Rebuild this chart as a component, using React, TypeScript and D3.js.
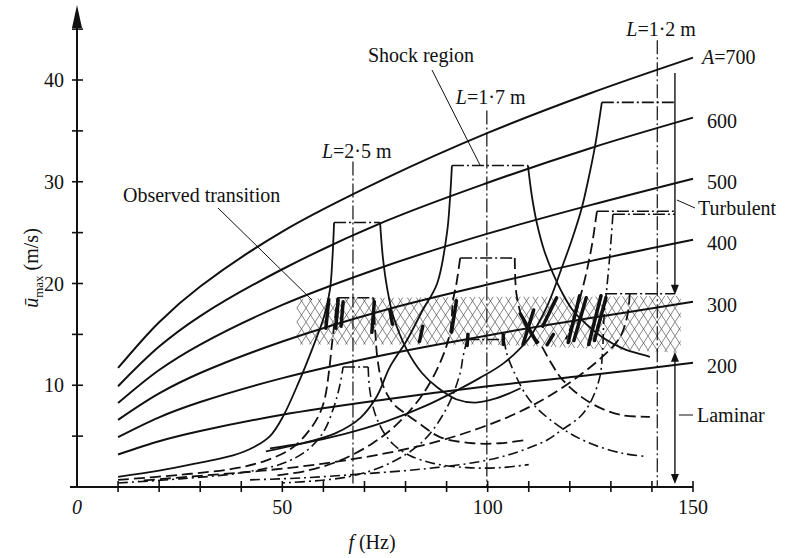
import React from 'react';
import * as d3 from 'd3';

const W = 789, H = 558;

// A-family curves (solid), common frequency grid
const aFreq = [10, 20, 30, 50, 75, 100, 125, 150];
const a700 = [11.7, 16.2, 19.7, 25.1, 30.3, 34.8, 38.7, 42.2];
const a600 = [9.9, 13.8, 16.8, 21.4, 26.1, 29.9, 33.3, 36.3];
const a500 = [8.25, 11.5, 14.0, 17.9, 21.7, 24.9, 27.7, 30.3];
const a400 = [6.6, 9.2, 11.2, 14.3, 17.4, 19.9, 22.2, 24.3];
const a300 = [4.9, 6.85, 8.35, 10.7, 13.0, 14.9, 16.6, 18.2];
const a200 = [3.2, 4.5, 5.5, 7.1, 8.6, 9.9, 11.0, 12.2];
const aLabels = ['700', '600', '500', '400', '300', '200'];

// resonance curves [f, u]
const s25L = [[10,1.0],[20,1.6],[30,2.4],[38,3.1],[43,3.9],[47,5.0],[50,6.8],[54,10.3],[57.5,13.8],[60.2,16.8],[61.6,19.4],[62.2,22.5],[62.6,26]];
const s25R = [[73.8,26],[74.5,22.5],[75.5,19.6],[77,16.8],[80.3,13.5],[84,11.2],[87.7,9.8],[92.5,8.6],[97,8.3],[102,8.7],[108,9.7]];
const s17L = [[91.3,31.6],[90.8,28.2],[90.1,25],[87.7,20],[84.2,17.4],[80.3,14.4],[76.2,11.8],[73,8.9],[69,6.8],[63,5.3],[55,4.3],[46,3.5]];
const s17R = [[109.8,31.6],[110.8,28.5],[112,25.9],[113.8,23.2],[115.9,21],[118,19.2],[120.5,17.5],[124,16],[128,14.7],[133,13.6],[139.5,12.8]];
const s12L = [[127.8,37.8],[126.1,33.4],[124.5,30.2],[122.9,27.4],[120.5,24.3],[118.1,21.6],[114.4,17.7],[110,14.6],[104,12.2],[98,10.7],[93,9.6],[85,8.0],[75,6.4],[65,5.2],[55,4.3],[47,3.8]];

const d25L = [[10,0.7],[25,1.2],[38,1.8],[46,2.6],[52.6,3.9],[57,5.8],[59.2,7.3],[60.4,8.8],[61.4,11.5],[62.1,14.1],[62.8,16.5],[63.4,18.6]];
const d25R = [[72.2,18.6],[72.6,15.5],[73.2,12.5],[74.5,10],[77,8.2],[80,7.2],[83.5,6.2],[88.4,4.9],[96.4,4.3],[103,4.3],[109,4.6]];
const d17L = [[93.3,22.5],[92.4,20],[91.6,18.4],[90.8,15.1],[88.4,12.2],[84,9.0],[78,6.2],[72,4.3],[64,2.6],[56,1.6],[48,1.1]];
const d17R = [[106.6,22.5],[107,19],[108.5,16.5],[110.5,15],[112.7,14.1],[115,12.5],[118.3,10.5],[124.9,8.3],[132.2,7.1],[139.5,6.9]];
const d12a = [[134.6,19],[134,16.8],[132.2,14.7],[129,13.2],[122.5,11],[114.4,8.8],[106.2,7.1],[98.1,5.8],[88,4.5],[75,3.3],[60,2.3],[45,1.6],[30,1.1],[15,0.6]];
const d12b = [[126.6,27.1],[125.4,23.8],[124,21],[122.5,18.6],[121,16.5],[119,14.5]];

const dd25L = [[10,0.4],[25,0.8],[40,1.4],[50,2.3],[56,3.6],[60,5.4],[62.5,7.8],[64,10],[64.8,11.8]];
const dd25R = [[70.9,11.8],[71.3,9.5],[72.5,7.3],[74.5,5.5],[77,4.2],[81,3.1],[87,2.3],[95,1.9],[103,1.9],[110,2.2]];
const dd17L = [[95,14.5],[94,12.8],[93.3,11.2],[90.2,7.9],[84.5,4.6],[76.5,2.4],[66,1.0],[50,0.4]];
const dd17R = [[104,14.5],[104.6,13.2],[106.2,11.5],[110.3,8.5],[117.6,5.9],[124.9,4.3],[133,3.3],[138.8,3.0]];
const dd12 = [[130.5,26.8],[129.8,23],[129,19.5],[128.3,16.5],[128,13.5],[127.3,10.8],[125,8.3],[122.5,6.9],[118,5.6],[114.4,4.6],[106.2,3.3],[98.1,2.5],[85,1.8],[70,1.3],[55,0.9],[42,0.7]];

// shock-region caps
const capF1 = [62.6, 63.4, 64.8, 91.3, 93.3, 95, 127.8, 126.6, 130.5, 128.6];
const capF2 = [73.8, 72.2, 70.9, 109.8, 106.6, 104, 145.6, 145.6, 145.6, 145.6];
const capU = [26, 18.6, 11.8, 31.6, 22.5, 14.5, 37.8, 27.1, 26.8, 19];

// pipe-length lines
const lFreq = [67.2, 99.8, 141.3];
const lTop = [32.0, 37.0, 43.9];
const lLabels = ['2·5', '1·7', '1·2'];
const lLabelU = [33.0, 38.3, 45.0];

// observed transition band
const bandF = [53.5, 75, 100, 125, 147];
const bandTop = [18.5, 18.6, 18.7, 18.7, 18.8];
const bandBottom = [14.0, 14.0, 14.0, 13.6, 13.2];

// observed transition marks [f1,u1,f2,u2]
const marks = [
  [61.3,18.4,60.6,15.6],[63.6,18.4,63.0,15.6],[64.8,18.2,64.3,15.8],[72.4,18.2,71.8,15.2],
  [76.2,17.4,76.8,16.0],[84.2,15.8,83.4,14.3],[92.4,18.3,91.2,15.2],[95.2,15.0,95.0,13.9],
  [103.8,15.0,103.8,14.0],[111.2,17.4,108.6,14.0],[108.0,17.0,112.0,14.2],[116.8,18.6,113.4,15.8],
  [122.4,18.8,119.6,14.2],[124.0,18.6,121.0,14.4],[127.6,18.8,124.6,14.0],[128.8,18.6,126.0,14.4],
  [116.0,15.0,114.5,14.0]
];

const xTicks = d3.range(0, 151, 10);
const xLabels = [0, 50, 100, 150];
const yTicks = d3.range(0, 46, 5);
const yLabels = [10, 20, 30, 40];

export default function App() {
  const x = d3.scaleLinear().domain([0, 150]).range([77, 693]);
  const y = d3.scaleLinear().domain([0, 40]).range([487, 80]);
  const line = d3.line<number[]>().x(d => x(d[0])).y(d => y(d[1])).curve(d3.curveCatmullRom.alpha(0.5));
  const aSeries = [a700, a600, a500, a400, a300, a200];
  const solid = [s25L, s25R, s17L, s17R, s12L];
  const dashed = [d25L, d25R, d17L, d17R, d12a, d12b];
  const dashdot = [dd25L, dd25R, dd17L, dd17R, dd12];
  const ink = '#111';
  const font = "'Liberation Serif', 'Times New Roman', serif";
  const DASH = '11 5';
  const DD = '10 4 2 4';

  const bandPts: [number, number][] = [
    ...bandF.map((f, i) => [x(f), y(bandTop[i])] as [number, number]),
    ...bandF.map((f, i) => [x(f), y(bandBottom[i])] as [number, number]).reverse(),
  ];
  const bandPath = 'M' + bandPts.map(p => p.join(',')).join('L') + 'Z';

  const xT = x(145.6);

  return (
    <svg width={W} height={H} style={{ position: 'absolute', left: 0, top: 0, background: '#fff' }} fontFamily={font}>
      <defs>
        <pattern id="hatch" patternUnits="userSpaceOnUse" width="9" height="14">
          <path d="M0,0 L9,14 M9,0 L0,14" stroke="#333" strokeWidth="0.6" fill="none" />
        </pattern>
      </defs>
      <rect x={0} y={0} width={W} height={H} fill="#fff" />

      {/* band */}
      <path d={bandPath} fill="url(#hatch)" stroke="none" />

      {/* axes */}
      <line x1={x(0)} y1={y(0)} x2={x(0)} y2={24} stroke={ink} strokeWidth={2} />
      <path d={`M${x(0)},5 L${x(0) - 5},28 L${x(0) + 5},28 Z`} fill={ink} />
      <line x1={70} y1={y(0)} x2={x(150)} y2={y(0)} stroke={ink} strokeWidth={2} />
      {yTicks.filter(t => t > 0).map(t => (
        <line key={'yt' + t} x1={72} x2={83} y1={y(t)} y2={y(t)} stroke={ink} strokeWidth={1.6} />
      ))}
      {xTicks.filter(t => t > 0).map(t => (
        <line key={'xt' + t} x1={x(t)} x2={x(t)} y1={y(0) - 6} y2={y(0) + 5} stroke={ink} strokeWidth={1.6} />
      ))}
      {yLabels.map(t => (
        <text key={'yl' + t} x={64} y={y(t)} dy="0.35em" textAnchor="end" fontSize={20} fill={ink}>{t}</text>
      ))}
      {xLabels.map(t => (
        <text key={'xl' + t} x={x(t)} y={514} textAnchor="middle" fontSize={20} fill={ink} fontStyle={t === 0 ? 'italic' : 'normal'}>{t}</text>
      ))}
      <text x={372} y={549} textAnchor="middle" fontSize={20} fill={ink}>
        <tspan fontStyle="italic">f</tspan> (Hz)
      </text>
      <text transform={`translate(38,268) rotate(-90)`} textAnchor="middle" fontSize={20} fill={ink}>
        <tspan fontStyle="italic">ū</tspan><tspan fontSize={13} dy={5}>max</tspan><tspan dy={-5}> (m/s)</tspan>
      </text>

      {/* L vertical lines */}
      {lFreq.map((f, i) => (
        <g key={'L' + i}>
          <line x1={x(f)} x2={x(f)} y1={y(lTop[i])} y2={y(0)} stroke={ink} strokeWidth={1.2} strokeDasharray="14 3 2 3" />
          <text x={x(f) - 31} y={y(lLabelU[i])} dy="0.35em" fontSize={20} fill={ink}>
            <tspan fontStyle="italic">L</tspan>={lLabels[i]} m
          </text>
        </g>
      ))}

      {/* A curves */}
      {aSeries.map((s, i) => (
        <path key={'a' + i} d={line(aFreq.map((f, j) => [f, s[j]]))!} fill="none" stroke={ink} strokeWidth={2} />
      ))}
      {aLabels.map((lab, i) => (
        <text key={'al' + i} x={i === 0 ? 702 : 707} y={y(aSeries[i][aSeries[i].length - 1]) + (i === 0 ? -1 : 3)} dy="0.35em" fontSize={20} fill={ink}>
          {i === 0 ? <><tspan fontStyle="italic">A</tspan>=700</> : lab}
        </text>
      ))}

      {/* resonance curves */}
      {solid.map((s, i) => <path key={'s' + i} d={line(s as number[][])!} fill="none" stroke={ink} strokeWidth={1.8} />)}
      {dashed.map((s, i) => <path key={'d' + i} d={line(s as number[][])!} fill="none" stroke={ink} strokeWidth={1.8} strokeDasharray={DASH} />)}
      {dashdot.map((s, i) => <path key={'dd' + i} d={line(s as number[][])!} fill="none" stroke={ink} strokeWidth={1.6} strokeDasharray={DD} />)}

      {/* caps */}
      {capU.map((u, i) => (
        <line key={'c' + i} x1={x(capF1[i])} x2={x(capF2[i])} y1={y(u)} y2={y(u)} stroke={ink} strokeWidth={1.6} strokeDasharray="12 3 2 3" />
      ))}

      {/* transition marks */}
      {marks.map((m, i) => (
        <line key={'m' + i} x1={x(m[0])} y1={y(m[1])} x2={x(m[2])} y2={y(m[3])} stroke={ink} strokeWidth={3.5} strokeLinecap="round" />
      ))}

      {/* turbulent / laminar */}
      <line x1={xT} x2={xT} y1={y(40.7)} y2={y(19.3)} stroke={ink} strokeWidth={1.4} />
      <path d={`M${xT},${y(18.9)} l-4,-10 l8,0 Z`} fill={ink} />
      <line x1={xT} x2={xT} y1={y(13.0)} y2={y(0.6)} stroke={ink} strokeWidth={1.4} />
      <path d={`M${xT},${y(13.3)} l-4,10 l8,0 Z`} fill={ink} />
      <path d={`M${xT},${y(0.3)} l-4,-10 l8,0 Z`} fill={ink} />
      <line x1={xT + 2} y1={200} x2={695} y2={208} stroke={ink} strokeWidth={1} />
      <text x={698} y={208} dy="0.35em" fontSize={20} fill={ink}>Turbulent</text>
      <line x1={xT + 4} y1={415} x2={693} y2={415} stroke={ink} strokeWidth={1} />
      <text x={697} y={415} dy="0.35em" fontSize={20} fill={ink}>Laminar</text>

      {/* annotations */}
      <text x={123} y={202} fontSize={20} fill={ink}>Observed transition</text>
      <line x1={218} y1={208} x2={312} y2={300} stroke={ink} strokeWidth={1} />
      <text x={421} y={62} textAnchor="middle" fontSize={20} fill={ink}>Shock region</text>
      <line x1={432} y1={70} x2={480} y2={165} stroke={ink} strokeWidth={1} />
    </svg>
  );
}
